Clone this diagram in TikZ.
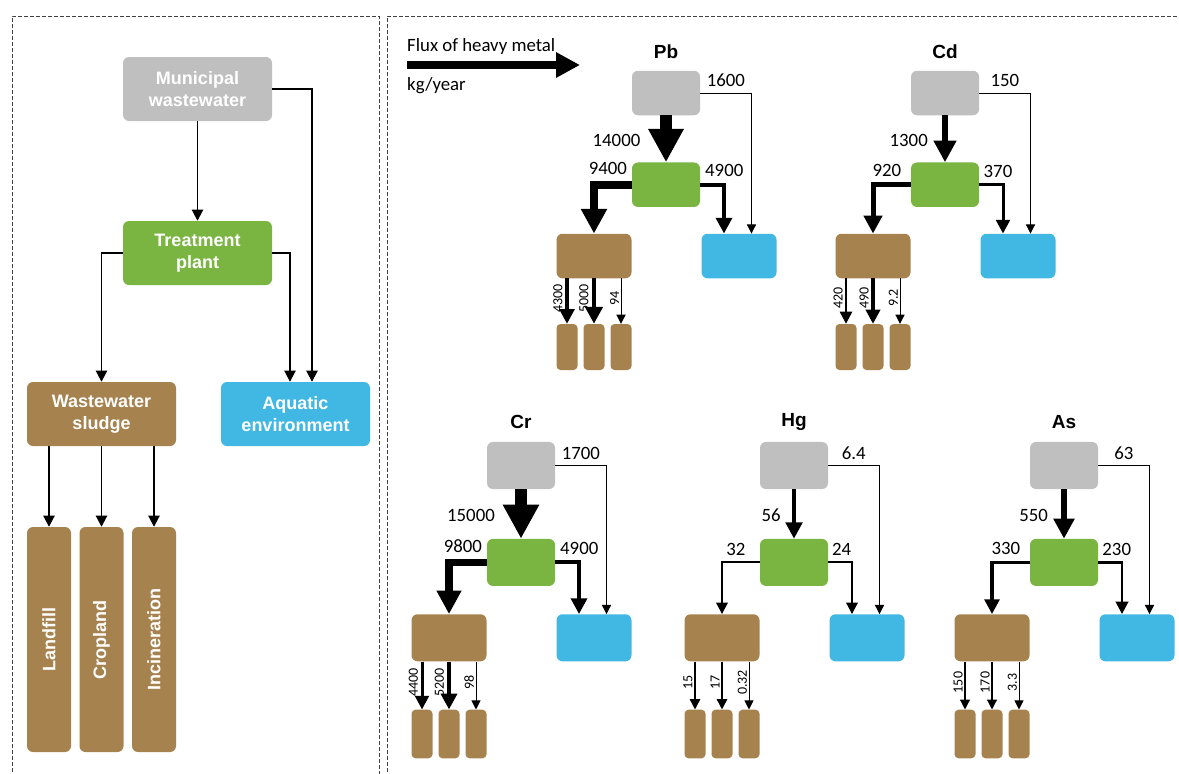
\documentclass[tikz,border=0pt]{standalone}
\usepackage{fontspec}
\setmainfont{Liberation Sans}
\newfontfamily\calibri{Carlito}
\usetikzlibrary{arrows.meta,positioning}
\definecolor{mwgray}{HTML}{BFBFBF}
\definecolor{plantgreen}{HTML}{7AB441}
\definecolor{sludgebrown}{HTML}{A6824F}
\definecolor{aquablue}{HTML}{41B8E3}

\begin{document}
\begin{tikzpicture}[x=1pt,y=-1pt,
 box/.style ={rounded corners=6pt, inner sep=0pt, text=white, align=center, font=\bfseries\fontsize{18}{22}\selectfont},
 mw/.style ={box, fill=mwgray},
 plant/.style ={box, fill=plantgreen},
 sludge/.style ={box, fill=sludgebrown},
 aquatic/.style ={box, fill=aquablue},
 flow/.style ={draw=black, line width=#1pt, -{Triangle[length=7pt 2.2, width=7pt 2.2]}},
 frame/.style ={draw=black!75, dash pattern=on 4pt off 2pt, line width=0.8pt},
 flux/.style ={font=\calibri\fontsize{18.8}{22}\selectfont, inner sep=1pt},
 smallflux/.style ={font=\calibri\fontsize{14}{16}\selectfont, inner sep=0pt},
 metal/.style ={font=\bfseries\fontsize{19}{22}\selectfont}
 ]
\useasboundingbox (0,0) rectangle (1179,774);
%draw panels
\draw[frame] (12,790) -- (12,16) -- (379,16) -- (379,790);
\draw[frame] (387,790) -- (387,16) -- (1190,16);
%draw general scheme
\node[mw, minimum width=149pt, minimum height=64pt] (ww) at (197.5,89) {Municipal\\wastewater};
\node[plant, minimum width=149pt, minimum height=64pt] (tp) at (197.5,253) {Treatment\\plant};
\node[sludge, minimum width=149pt, minimum height=64pt] (sl) at (101.5,414) {Wastewater\\sludge};
\node[aquatic, minimum width=149pt, minimum height=64pt] (aq) at (295.5,414) {Aquatic\\environment};
\node[sludge, rotate=90, minimum width=225pt, minimum height=44pt] (landfill) at (49,639.5) {Landfill};
\node[sludge, rotate=90, minimum width=225pt, minimum height=44pt] (cropland) at (101.5,639.5) {Cropland};
\node[sludge, rotate=90, minimum width=225pt, minimum height=44pt] (incineration) at (154,639.5) {Incineration};
\draw[flow=1.9] (ww) -- (tp);
\draw[flow=1.9] (ww.east) -| ([xshift=16.5pt]aq.north);
\draw[flow=1.9] (tp.west) -| (sl.north);
\draw[flow=1.9] (tp.east) -| ([xshift=-5.5pt]aq.north);
\foreach \dest in {landfill,cropland,incineration}
  \draw[flow=1.9] (\dest.east |- sl.south) -- (\dest.east);
%draw legend
\node[flux, anchor=west, inner sep=0pt] (fluxlabel) at (407,46) {Flux of heavy metal};
\coordinate (legstart) at (407,65);
\coordinate (legtip) at (580,65);
\draw[line width=8pt, -{Triangle[length=24pt,width=24pt]}] (legstart) -- (legtip);
\node[flux, anchor=west, inner sep=0pt] (unitlabel) at (407,86) {kg/year};
%draw one scheme per metal
\foreach \m/\gx/\gy/\s/\qA/\wA/\qB/\wB/\qC/\wC/\qD/\wD/\qE/\wE/\qF/\wF/\qG/\wG in {
  Pb/666/93/1/14000/12/9400/8/4900/4/1600/1/4300/3.5/5000/4.5/94/1,
  Cd/945/93/1/1300/6.7/920/5/370/3/150/1/420/2.3/490/3.3/9.2/1,
  Cr/521/465.5/1.057/15000/12.3/9800/7.5/4900/4/1700/1/4400/3/5200/4/98/1,
  Hg/794/465.5/1.057/56/4.3/32/2/24/2/6.4/1/15/1.5/17/1.5/0.32/1,
  As/1064/465.5/1.057/550/6/330/3.5/230/2.5/63/1/150/1.3/170/1.3/3.3/1}
{
  \pgfmathsetmacro\off{(7+2.2*\wA)/2+2}
  \node[metal] (h\m) at (\gx,\gy-41*\s) {\m};
  \node[mw, minimum width=68pt, minimum height=\s*44.5pt] (g\m) at (\gx,\gy) {};
  \node[plant, minimum width=68pt, minimum height=\s*44.5pt] (t\m) at (\gx,\gy+91.7*\s) {};
  \node[sludge, minimum width=75pt, minimum height=\s*44.5pt] (s\m) at (\gx-72,\gy+163*\s) {};
  \node[aquatic, minimum width=75pt, minimum height=\s*44.5pt] (a\m) at (\gx+73,\gy+163*\s) {};
  \foreach \i/\dx in {1/-99,2/-72,3/-45}
    \node[sludge, rounded corners=4pt, minimum width=21pt, minimum height=\s*46pt] (b\m\i) at (\gx+\dx,\gy+254*\s) {};
  \draw[flow=\wA] (g\m) -- (t\m) node[flux, midway, anchor=east, xshift=-\off pt, yshift=-1.5pt] {\qA};
  \draw[flow=\wB] (t\m.west) -| (s\m.north) node[flux, pos=0.25, anchor=south, xshift=-5pt, yshift=5pt] {\qB};
  \draw[flow=\wC] (t\m.east) -| ([xshift=-15pt]a\m.north) node[flux, pos=0, anchor=south west, xshift=2pt, yshift=5pt] {\qC};
  \draw[flow=\wD] (g\m.east) -| ([xshift=12.5pt]a\m.north) node[flux, pos=0.25, anchor=south, yshift=4.5pt] {\qD};
  \foreach \i/\q/\w in {1/\qE/\wE,2/\qF/\wF,3/\qG/\wG}{
    \pgfmathsetmacro\gap{\w/2+1}
    \draw[flow=\w] (b\m\i.north |- s\m.south) -- (b\m\i.north) node[smallflux, midway, anchor=south, xshift=-\gap pt, yshift=3pt, rotate=90] {\q};
  }
}
\end{tikzpicture}
\end{document}
